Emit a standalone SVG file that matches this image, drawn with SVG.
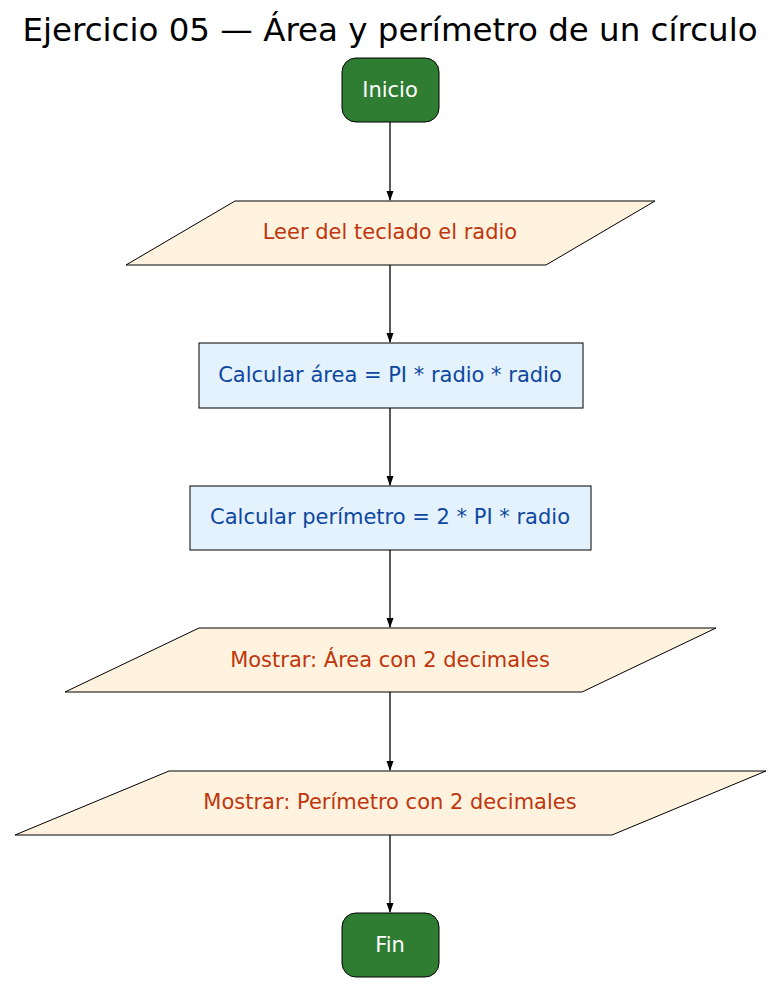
<svg xmlns="http://www.w3.org/2000/svg" width="782" height="986" viewBox="0 0 782 986">
<defs>
<style>
text{font-family:"DejaVu Sans",sans-serif;text-anchor:middle}
.t{font-size:21px;fill:#fff}
.io{fill:#fff3e0;stroke:#000;stroke-width:1}
.iot{font-size:21px;fill:#bf360c}
.p{fill:#e3f2fd;stroke:#000;stroke-width:1}
.pt{font-size:21px;fill:#0d47a1}
.term{fill:#2e7d32;stroke:#000;stroke-width:1}
.e{stroke:#000;stroke-width:1.3;fill:none}
</style>
<marker id="a" markerWidth="10" markerHeight="10" refX="9" refY="5" orient="auto" markerUnits="userSpaceOnUse"><path d="M0,1.5 L10,5 L0,8.5 Z" fill="#000"/></marker>
</defs>
<rect width="782" height="986" fill="#fff"/>
<text x="390" y="41" style="font-size:32.5px;fill:#000">Ejercicio 05 — Área y perímetro de un círculo</text>
<g id="connectors">
<line class="e" x1="390" y1="122" x2="390" y2="200" marker-end="url(#a)"/>
<line class="e" x1="390" y1="265" x2="390" y2="342" marker-end="url(#a)"/>
<line class="e" x1="390" y1="408" x2="390" y2="485" marker-end="url(#a)"/>
<line class="e" x1="390" y1="550" x2="390" y2="627" marker-end="url(#a)"/>
<line class="e" x1="390" y1="692" x2="390" y2="770" marker-end="url(#a)"/>
<line class="e" x1="390" y1="835" x2="390" y2="912" marker-end="url(#a)"/>
</g>
<g id="inicio"><rect class="term" x="342" y="58" width="97" height="64" rx="14"/><text class="t" x="390" y="97">Inicio</text></g>
<g id="leer"><polygon class="io" points="126,265 235,201 655,201 546,265"/><text class="iot" x="390" y="239">Leer del teclado el radio</text></g>
<g id="area"><rect class="p" x="199" y="343" width="384" height="65"/><text class="pt" x="390" y="382">Calcular área = PI * radio * radio</text></g>
<g id="perimetro"><rect class="p" x="190" y="486" width="401" height="64"/><text class="pt" x="390" y="524">Calcular perímetro = 2 * PI * radio</text></g>
<g id="mostrarArea"><polygon class="io" points="65,692 199,628 716,628 582,692"/><text class="iot" x="390" y="667">Mostrar: Área con 2 decimales</text></g>
<g id="mostrarPer"><polygon class="io" points="15,835 169,771 766,771 612,835"/><text class="iot" x="390" y="809">Mostrar: Perímetro con 2 decimales</text></g>
<g id="fin"><rect class="term" x="342" y="913" width="97" height="64" rx="14"/><text class="t" x="390" y="952">Fin</text></g>
</svg>
